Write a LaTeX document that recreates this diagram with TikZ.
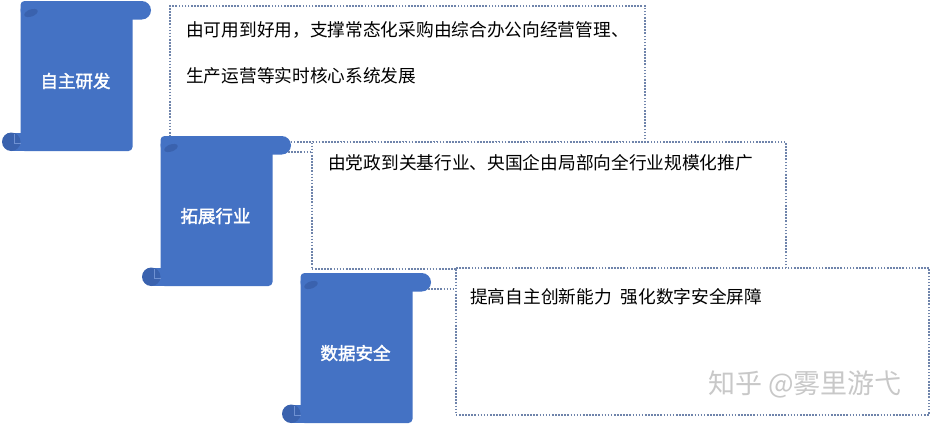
\documentclass[tikz,border=0pt]{standalone}
\usepackage{fontspec}
\setmainfont{Noto Sans CJK SC}
\newfontfamily\cjkbold{Noto Sans CJK SC}[FakeBold=2]
\definecolor{scrollblue}{HTML}{4472C4}
\definecolor{curlblue}{HTML}{3A62AE}
\definecolor{seamblue}{HTML}{6F91D2}
\definecolor{dotgray}{HTML}{6F84AB}
\definecolor{wmgray}{HTML}{C8C8C8}
\tikzset{
  scrolllabel/.style={text=white, font=\cjkbold\fontsize{17.5}{20}\selectfont, inner sep=0},
  infobox/.style={draw=dotgray, line width=1.6, dash pattern=on 1.6pt off 1.5pt, fill=white, anchor=north west, inner sep=0},
  dotline/.style={draw=dotgray, line width=1.6, dash pattern=on 1.6pt off 1.5pt},
  bodytext/.style={font=\fontsize{17.7}{20}\selectfont, text=black, anchor=west, inner sep=0},
  watermark/.style={font=\fontsize{27}{30}\selectfont, text=wmgray, inner sep=0}
}
\newcommand\drawscroll[4]{%
\begin{scope}[shift={(#1,#2)}]
 \fill[scrollblue, rounded corners=9.25] (18.5,0) rectangle (149,18.5);
 \fill[scrollblue, rounded corners=4] (18.5,0) rectangle (130.5,150);
 \fill[scrollblue] (9.25,131.5) rectangle (22,150);
 \fill[curlblue] (9.25,140.75) circle[radius=9.25];
 \draw[seamblue, line width=0.8] (12,133) -- (12,142) -- (19,142);
 \fill[curlblue, rotate around={20:(29,12)}] (29,12) ellipse[x radius=7, y radius=3.5];
 \node[scrolllabel] (#3) at (73.5,80) {#4};
 \coordinate (#3-bar) at (146,16);
\end{scope}}
\begin{document}
\begin{tikzpicture}[x=1pt, y=-1pt]
\useasboundingbox (0,0) rectangle (930,426);
\fill[white] (0,0) rectangle (930,426);
% boxes
\node[infobox, minimum width=475, minimum height=136] (b1) at (169,5) {};
\node[infobox, minimum width=474, minimum height=127] (b2) at (311,141) {};
\node[infobox, minimum width=473, minimum height=147] (b3) at (455,267) {};
% texts
\node[bodytext] (t1a) at (186,30) {由可用到好用，支撑常态化采购由综合办公向经营管理、};
\node[bodytext] (t1b) at (186,76) {生产运营等实时核心系统发展};
\node[bodytext] (t2) at (328,163) {由党政到关基行业、央国企由局部向全行业规模化推广};
\node[bodytext] (t3) at (470,297) {提高自主创新能力\hspace{0.5em}强化数字安全屏障};
% scrolls
\drawscroll{2}{1}{s1}{自主研发}
\drawscroll{142}{136}{s2}{拓展行业}
\drawscroll{282}{273}{s3}{数据安全}
% connectors
\draw[dotline] (s2-bar) -- (b2.west |- s2-bar);
\draw[dotline] (s3-bar) -- (b3.west |- s3-bar);
% watermark
\node[watermark] (wm) at (805,384) {知乎 @雾里游弋};
\end{tikzpicture}
\end{document}
